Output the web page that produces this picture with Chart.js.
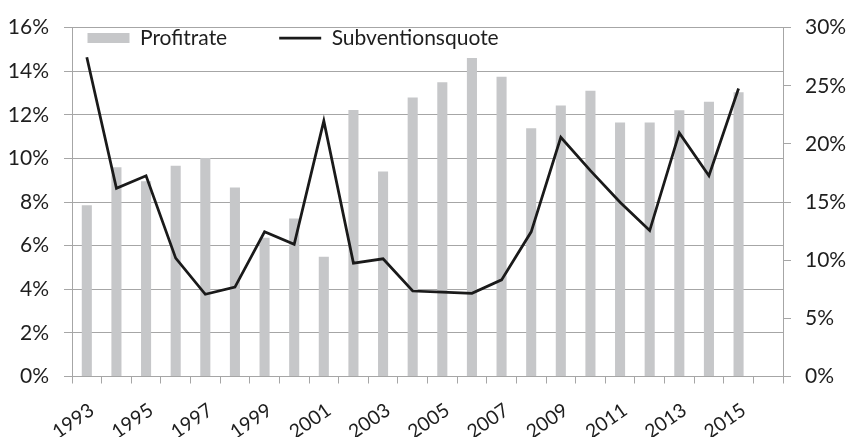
<!DOCTYPE html>
<html>
<head>
<meta charset="utf-8">
<script src="https://cdn.jsdelivr.net/npm/chart.js@4/dist/chart.umd.min.js"></script>
<style>
  html, body { margin: 0; padding: 0; background: #fff; }
  #wrap { width: 849px; height: 437px; }
</style>
</head>
<body>
<div id="wrap"><canvas id="chart" width="849" height="437"></canvas></div>
<script>
const years = ['1993', '1994', '1995', '1996', '1997', '1998', '1999', '2000', '2001', '2002', '2003', '2004',
  '2005', '2006', '2007', '2008', '2009', '2010', '2011', '2012', '2013', '2014', '2015', '2016'];

// Profitrate, left axis (%)
const profitrate = [7.85, 9.6, 8.95, 9.66, 10.02, 8.67, 6.36, 7.24, 5.49, 12.22, 9.4, 12.8,
  13.49, 14.61, 13.75, 11.38, 12.43, 13.1, 11.65, 11.65, 12.21, 12.6, 13.04, null];

// Subventionsquote, right axis (%)
const subventionsquote = [27.45, 16.18, 17.26, 10.18, 7.07, 7.69, 12.44, 11.37, 21.98, 9.75, 10.12, 7.35,
  7.26, 7.15, 8.31, 12.44, 20.57, 17.7, 14.99, 12.55, 20.94, 17.26, 24.76, null];

const leftTicks = [0, 2, 4, 6, 8, 10, 12, 14, 16];
const rightTicks = [0, 5, 10, 15, 20, 25, 30];

const gridGrey = '#a6a6a6';
const textColor = '#1e1e1e';

Chart.defaults.font.family = 'Lato';
Chart.defaults.font.size = 21;
Chart.defaults.color = textColor;

// legend sits inside the plot area, so give it no height in the layout
const legendInside = {
  id: 'legendInside',
  beforeInit(chart) {
    const fit = chart.legend.fit;
    chart.legend.fit = function () {
      fit.call(this);
      this.height = 0;
    };
  },
  afterLayout(chart) {
    const lg = chart.legend;
    lg.left = 35.5;
    lg.top = -24.5;
    lg.right = chart.width;
    lg.bottom = 60;
  }
};

new Chart(document.getElementById('chart'), {
  type: 'bar',
  plugins: [legendInside],
  data: {
    labels: years,
    datasets: [
      {
        label: 'Profitrate',
        data: profitrate,
        yAxisID: 'y',
        backgroundColor: '#c6c7c9',
        borderWidth: 0,
        barPercentage: 0.34,
        categoryPercentage: 1,
        pointStyle: 'rect',
        order: 2
      },
      {
        type: 'line',
        label: 'Subventionsquote',
        data: subventionsquote,
        yAxisID: 'y1',
        borderColor: '#1a1a1a',
        backgroundColor: '#1a1a1a',
        borderWidth: 2.75,
        pointRadius: 0,
        pointStyle: 'line',
        tension: 0,
        order: 1
      }
    ]
  },
  options: {
    responsive: false,
    animation: false,
    layout: {
      padding: { top: 23, left: 0, right: 0, bottom: 0 }
    },
    scales: {
      x: {
        grid: {
          drawOnChartArea: false,
          drawTicks: true,
          tickLength: 7,
          color: gridGrey,
          offset: true
        },
        border: { color: gridGrey, width: 1 },
        ticks: {
          autoSkip: false,
          maxRotation: 35,
          minRotation: 35,
          padding: 15,
          labelOffset: 5,
          font: { size: 19.5 },
          callback: function (val, index) {
            return index % 2 === 0 ? this.getLabelForValue(val) : '';
          }
        },
        afterFit: (axis) => {
          axis.height = 60.5;
        }
      },
      y: {
        position: 'left',
        min: 0,
        max: 16,
        afterBuildTicks: (axis) => {
          axis.ticks = leftTicks.map(v => ({ value: v }));
        },
        grid: {
          color: gridGrey,
          lineWidth: 1,
          tickLength: 8
        },
        border: { color: gridGrey, width: 1 },
        ticks: {
          padding: 15,
          callback: (val) => val + '%'
        },
        afterFit: (axis) => {
          axis.width = 72;
        }
      },
      y1: {
        position: 'right',
        min: 0,
        max: 30,
        afterBuildTicks: (axis) => {
          axis.ticks = rightTicks.map(v => ({ value: v }));
        },
        grid: {
          drawOnChartArea: false,
          color: gridGrey,
          tickLength: 8
        },
        border: { color: gridGrey, width: 1 },
        ticks: {
          padding: 14,
          callback: (val) => val + '%'
        },
        afterFit: (axis) => {
          axis.width = 66;
        }
      }
    },
    plugins: {
      tooltip: { enabled: false },
      legend: {
        position: 'top',
        align: 'start',
        labels: {
          usePointStyle: true,
          pointStyleWidth: 42,
          boxHeight: 10,
          padding: 52,
          color: textColor,
          font: { size: 21 },
          sort: (a, b) => a.datasetIndex - b.datasetIndex
        }
      }
    }
  }
});
</script>
</body>
</html>
